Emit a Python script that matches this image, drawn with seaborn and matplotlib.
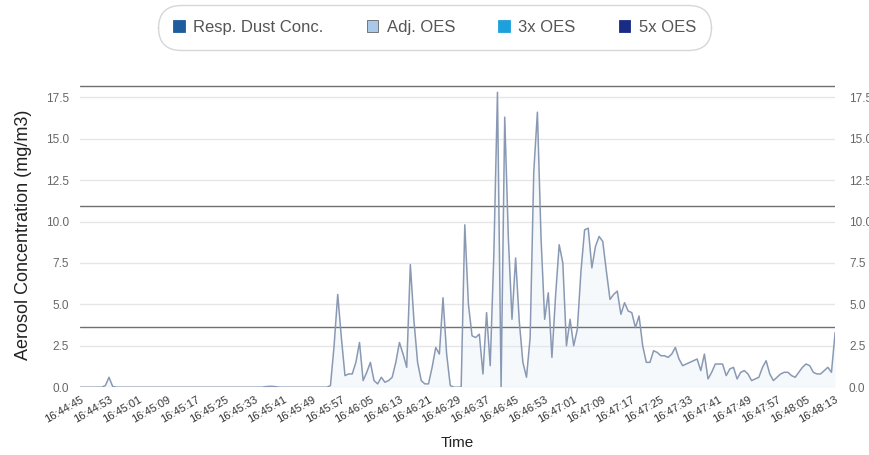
import numpy as np
import pandas as pd
import matplotlib
matplotlib.use("Agg")
import matplotlib.pyplot as plt
from matplotlib.patches import Patch
import seaborn as sns

# ---- data (one reading per second, starting 16:44:45) ----
conc = [
    0, 0, 0, 0, 0, 0, 0, 0.1, 0.6, 0.05,            # 0-9
    0, 0, 0, 0, 0, 0, 0, 0, 0, 0,                   # 10-19
    0, 0, 0, 0, 0, 0, 0, 0, 0, 0,                   # 20-29
    0, 0, 0, 0, 0, 0, 0, 0, 0, 0,                   # 30-39
    0, 0, 0, 0, 0, 0, 0, 0, 0, 0,                   # 40-49
    0, 0.03, 0.05, 0.05, 0.03, 0, 0, 0, 0, 0,       # 50-59
    0, 0, 0, 0, 0, 0, 0, 0, 0, 0.1,                 # 60-69
    2.5, 5.6, 3.0, 0.7, 0.8, 0.8, 1.5, 2.7, 0.4, 0.9,   # 70-79
    1.5, 0.4, 0.2, 0.6, 0.3, 0.4, 0.6, 1.5, 2.7, 2.0,   # 80-89
    1.2, 7.4, 4.0, 1.5, 0.4, 0.2, 0.2, 1.2, 2.4, 2.0,   # 90-99
    5.4, 2.0, 0.1, 0, 0, 0, 9.8, 5.0, 3.1, 3.0,         # 100-109
    3.2, 0.8, 4.5, 1.3, 8.0, 17.8, 0.0, 16.3, 9.0, 4.1, # 110-119
    7.8, 4.0, 1.5, 0.6, 3.0, 13.0, 16.6, 9.0, 4.1, 5.7, # 120-129
    1.8, 5.5, 8.6, 7.5, 2.5, 4.1, 2.5, 3.5, 7.0, 9.5,   # 130-139
    9.6, 7.2, 8.5, 9.1, 8.8, 7.0, 5.3, 5.6, 5.8, 4.4,   # 140-149
    5.1, 4.6, 4.5, 3.6, 4.3, 2.5, 1.5, 1.5, 2.2, 2.1,   # 150-159
    1.9, 1.9, 1.8, 2.0, 2.4, 1.7, 1.3, 1.4, 1.5, 1.6,   # 160-169
    1.7, 1.0, 2.0, 0.5, 0.9, 1.4, 1.4, 1.4, 0.7, 1.1,   # 170-179
    1.2, 0.5, 0.9, 1.0, 0.8, 0.4, 0.5, 0.6, 1.2, 1.6,   # 180-189
    0.8, 0.4, 0.6, 0.8, 0.9, 0.9, 0.7, 0.6, 0.9, 1.2,   # 190-199
    1.4, 1.3, 0.9, 0.8, 0.8, 1.0, 1.2, 0.9, 3.3,        # 200-208
]
tick_labels = [
    "16:44:45", "16:44:53", "16:45:01", "16:45:09", "16:45:17", "16:45:25",
    "16:45:33", "16:45:41", "16:45:49", "16:45:57", "16:46:05", "16:46:13",
    "16:46:21", "16:46:29", "16:46:37", "16:46:45", "16:46:53", "16:47:01",
    "16:47:09", "16:47:17", "16:47:25", "16:47:33", "16:47:41", "16:47:49",
    "16:47:57", "16:48:05", "16:48:13",
]
oes_names = ["Adj. OES", "3x OES", "5x OES"]
oes_values = [3.64, 10.92, 18.2]
legend_names = ["Resp. Dust Conc.", "Adj. OES", "3x OES", "5x OES"]
legend_colors = ["#1f5c9e", "#a9c9ea", "#1ea0dc", "#182c86"]

df = pd.DataFrame({"sec": np.arange(len(conc)), "conc": conc})

sns.set_theme(style="white")
plt.rcParams["font.family"] = ["Liberation Sans", "DejaVu Sans"]

fig = plt.figure(figsize=(8.69, 4.55), dpi=100)
ax = fig.add_axes([0.092, 0.149, 0.869, 0.670])

# grid lines
yt = [0, 2.5, 5, 7.5, 10, 12.5, 15, 17.5]
for v in yt:
    ax.axhline(v, color="#e6e6e6", lw=1.0, zorder=0)

ax.fill_between(df["sec"], df["conc"], color="#e3eef9", alpha=0.35, lw=0, zorder=1)
sns.lineplot(data=df, x="sec", y="conc", ax=ax, color="#8a99b3", lw=1.1, zorder=3)

for v in oes_values:
    ax.axhline(v, color="#707070", lw=1.0, zorder=2)

ax.set_xlim(0, len(conc) - 1)
ax.set_ylim(0, 18.4)
ax.set_yticks(yt)
ax.set_yticklabels([f"{v:.1f}" for v in yt], color="#666666", fontsize=8.5)
ax.tick_params(axis="y", length=0, pad=8)

ticks = np.arange(0, len(conc), 8)
ax.set_xticks(ticks)
ax.set_xticklabels(tick_labels, rotation=30, ha="right", rotation_mode="anchor",
                   fontsize=8, color="#333333")
ax.tick_params(axis="x", length=0, pad=5)

ax.set_xlabel("Time", fontsize=11, color="#222222", labelpad=8)
ax.set_ylabel("Aerosol Concentration (mg/m3)", fontsize=13, color="#222222", labelpad=10)

for s in ax.spines.values():
    s.set_visible(False)

# right-side labels
ax2 = ax.twinx()
ax2.set_ylim(ax.get_ylim())
ax2.set_yticks(yt)
ax2.set_yticklabels([f"{v:.1f}" for v in yt], color="#666666", fontsize=8.5)
ax2.tick_params(axis="y", length=0, pad=10)
for s in ax2.spines.values():
    s.set_visible(False)

handles = [Patch(facecolor=c, edgecolor="#666666" if i == 1 else c, lw=0.6)
           for i, c in enumerate(legend_colors)]
leg = fig.legend(handles, legend_names, loc="upper center", bbox_to_anchor=(0.5, 1.0),
                 ncol=4, frameon=True, fontsize=12, handlelength=0.7, handleheight=0.7,
                 handletextpad=0.5, columnspacing=2.6, borderpad=0.7, fancybox=True)
for t in leg.get_texts():
    t.set_color("#555555")
fr = leg.get_frame()
fr.set_edgecolor("#cccccc")
fr.set_linewidth(1.0)
fr.set_boxstyle("round,pad=0.2,rounding_size=1.4")

fig.savefig("out.png", dpi=100)
